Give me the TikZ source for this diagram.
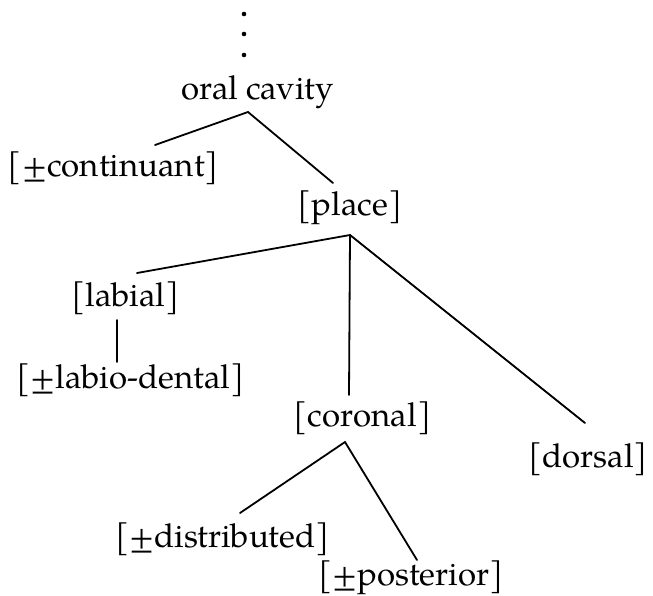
\documentclass[tikz,border=0pt]{standalone}
\usepackage{fontspec}
\setmainfont{TeX Gyre Pagella}
\tikzset{
  lab/.style={inner sep=0pt, anchor=base, font=\fontsize{33}{38}\selectfont},
  branch/.style={line width=1.8pt, line cap=round},
  vdot/.style={fill=black}
}
\begin{document}
\begin{tikzpicture}[x=1pt,y=-1pt]
\useasboundingbox[fill=white] (0,0) rectangle (653,595);
% dots
\fill[vdot] (244,14) circle (2.3);
\fill[vdot] (244,34) circle (2.3);
\fill[vdot] (244,55) circle (2.3);
% nodes
\node[lab] (oral) at (257.5,99) {oral cavity};
\node[lab] (cont) at (113.5,176) {[±continuant]};
\node[lab] (place) at (350,215) {[place]};
\node[lab] (labial) at (125.5,306) {[labial]};
\node[lab] (labdent) at (130.5,388) {[±labio-dental]};
\node[lab] (coronal) at (362.5,426) {[coronal]};
\node[lab] (dorsal) at (588,467) {[dorsal]};
\node[lab] (distr) at (222.5,547) {[±distributed]};
\node[lab] (post) at (411,585) {[±posterior]};
% connector points
\coordinate (oralB) at (248,112);
\coordinate (contT) at (155,145);
\coordinate (placeT) at (333,183);
\coordinate (placeB) at (350,235);
\coordinate (labialT) at (137,273);
\coordinate (coronalT) at (349,395);
\coordinate (dorsalT) at (585,423);
\coordinate (labialB) at (117,320);
\coordinate (labdentT) at (117,362);
\coordinate (coronalB) at (345,442);
\coordinate (distrT) at (240,513);
\coordinate (postT) at (417,560);
% connectors
\draw[branch] (contT) -- (oralB) -- (placeT);
\draw[branch] (labialT) -- (placeB) -- (dorsalT);
\draw[branch] (placeB) -- (coronalT);
\draw[branch] (labialB) -- (labdentT);
\draw[branch] (distrT) -- (coronalB) -- (postT);
\end{tikzpicture}
\end{document}
